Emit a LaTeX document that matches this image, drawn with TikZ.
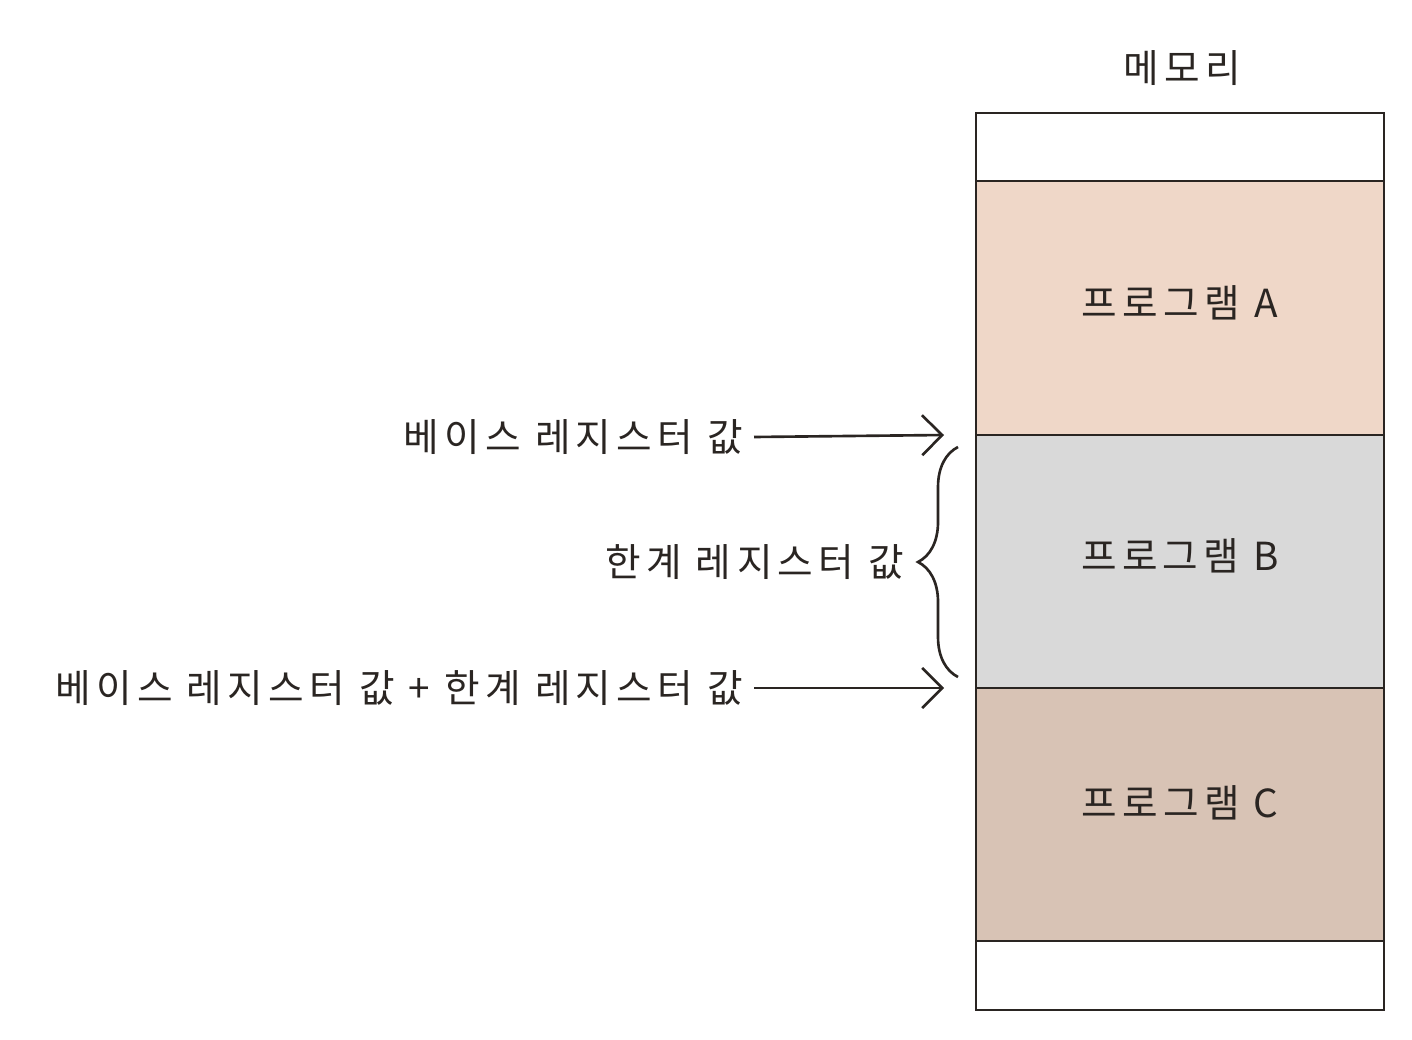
\documentclass[tikz,border=0pt]{standalone}
\usepackage{fontspec}
\setmainfont{Noto Sans CJK KR}[LetterSpace=14]
\usetikzlibrary{arrows.meta,decorations.pathreplacing,positioning}

\definecolor{progA}{HTML}{EFD7C8}
\definecolor{progB}{HTML}{D9D9D9}
\definecolor{progC}{HTML}{D8C3B5}
\definecolor{ink}{HTML}{2A2522}

\tikzset{
  cell/.style={draw=ink, line width=1.6pt},
  lbl/.style={font=\fontsize{22}{26}\selectfont, text=ink, inner sep=2pt},
  ptr/.style={draw=ink, line width=1.5pt, -{Straight Barb[length=4mm,width=8mm,line width=1.5pt]}},
}

\begin{document}
\begin{tikzpicture}[x=0.02cm, y=-0.02cm]
  \useasboundingbox (0,0) rectangle (1412,1040);
  % memory column
  \fill[white] (976,113) rectangle (1384,1010);
  \fill[progA] (976,181) rectangle (1384,435);
  \fill[progB] (976,435) rectangle (1384,688);
  \fill[progC] (976,688) rectangle (1384,941);
  \draw[cell] (976,113) rectangle (1384,1010);
  \foreach \yy in {181,435,688,941}
    \draw[cell] (976,\yy) -- (1384,\yy);
  \node[lbl] (mem) at (1182,68) {메모리};
  \node[lbl] (pa) at (1180,303) {프로그램 A};
  \node[lbl] (pb) at (1180,556) {프로그램 B};
  \node[lbl] (pc) at (1180,803) {프로그램 C};

  % registers
  \coordinate (baseend) at (944,435);
  \coordinate (limend) at (944,688);
  \node[lbl, anchor=east, inner xsep=6pt] (base) at (754,437) {베이스 레지스터 값};
  \node[lbl, anchor=east, inner xsep=6pt] (sum) at (754,688) {베이스 레지스터 값 + 한계 레지스터 값};
  \draw[ptr] (base.east) -- (baseend);
  \draw[ptr] (sum.east) -- (limend);

  \coordinate (brtop) at (958,447);
  \coordinate (brbot) at (958,677);
  \draw[ink, line width=1.5pt, decoration={brace, amplitude=0.8cm}, decorate]
    (brbot) -- (brtop);
  \node[lbl, anchor=east] (lim) at (908,562) {한계 레지스터 값};
\end{tikzpicture}
\end{document}
